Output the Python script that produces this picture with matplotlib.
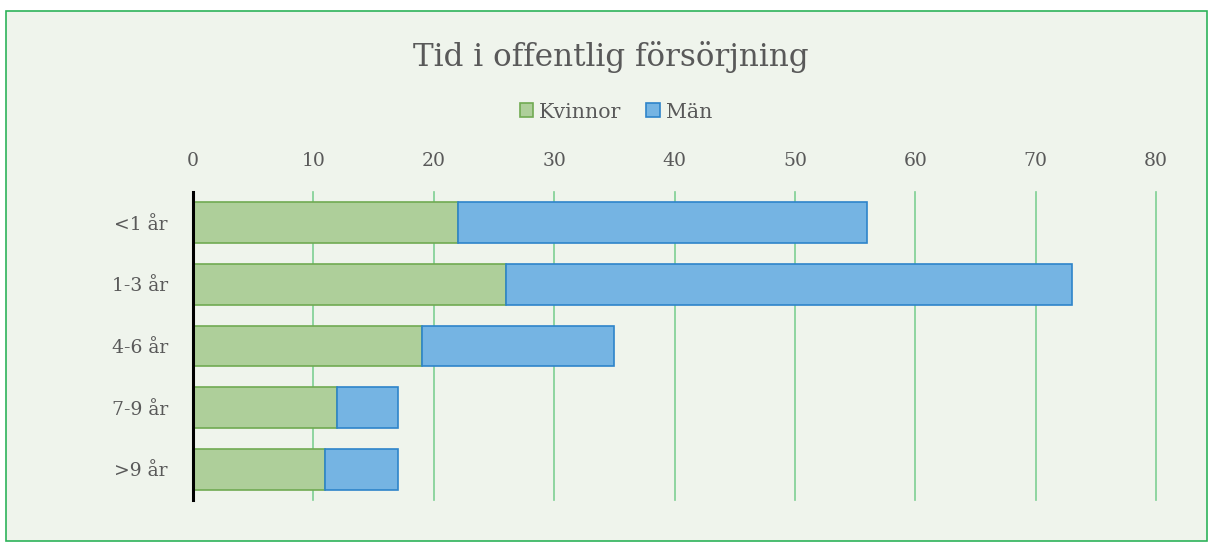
import matplotlib
matplotlib.use("Agg")
import matplotlib.pyplot as plt
from matplotlib.patches import Rectangle

# data
kategorier = ["<1 år", "1-3 år", "4-6 år", "7-9 år", ">9 år"]
kvinnor = [22, 26, 19, 12, 11]
man = [34, 47, 16, 5, 6]

plt.rcParams["font.family"] = ["DejaVu Serif"]
text_color = "#595959"
bg = "#EFF4EC"

fig = plt.figure(figsize=(12.08, 5.45), dpi=100)
fig.patch.set_facecolor("white")
# ram runt diagrammet
fig.patches.append(Rectangle((6 / 1208, 4 / 545), 1201 / 1208, 530 / 545,
                             transform=fig.transFigure, facecolor=bg,
                             edgecolor="#2DB35A", linewidth=1.2, zorder=-1))

ax = fig.add_axes([193 / 1208, 1 - 500 / 545, 963 / 1208, 308 / 545])
ax.set_facecolor("none")

y = range(len(kategorier))
ax.barh(y, kvinnor, height=0.66, color="#AECF9A", edgecolor="#70AA52",
        linewidth=1.2, label="Kvinnor", zorder=3)
ax.barh(y, man, left=kvinnor, height=0.66, color="#75B4E3",
        edgecolor="#2E84CA", linewidth=1.2, label="Män", zorder=3)

ax.set_xlim(0, 80)
ax.set_ylim(4.5, -0.5)
ax.set_xticks(range(0, 81, 10))
ax.set_yticks(list(y))
ax.set_yticklabels(kategorier)
ax.xaxis.tick_top()
ax.tick_params(axis="both", length=0, labelsize=13.5, colors=text_color)
ax.tick_params(axis="x", pad=16)
ax.tick_params(axis="y", pad=18)
ax.grid(axis="x", color="#7DCF92", linewidth=1.2, zorder=1)
for line in ax.get_xgridlines():
    line.set_clip_on(False)
for s in ["top", "right", "bottom"]:
    ax.spines[s].set_visible(False)
ax.spines["left"].set_color("black")
ax.spines["left"].set_linewidth(2.2)
ax.spines["left"].set_zorder(4)

fig.text(611 / 1208, 1 - 57 / 545, "Tid i offentlig försörjning", ha="center",
         va="center", fontsize=22.3, color=text_color)
fig.legend(loc="center", bbox_to_anchor=(616 / 1208, 1 - 112 / 545), ncol=2,
           frameon=False, fontsize=14.8, labelcolor=text_color, handlelength=0.65,
           handleheight=0.65, handletextpad=0.3, columnspacing=1.2)

fig.savefig("out.png", dpi=100, facecolor=fig.get_facecolor())
